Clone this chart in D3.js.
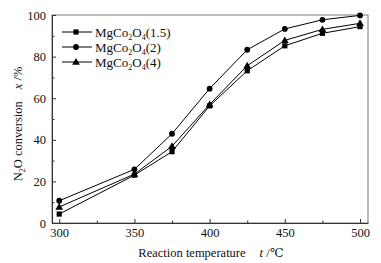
<!DOCTYPE html>
<html>
<head>
<meta charset="utf-8">
<script src="https://cdn.jsdelivr.net/npm/d3@7"></script>
<style>
  body { margin: 0; background: #fff; }
  text { font-family: "Liberation Serif", "DejaVu Serif", serif; fill: #111; }
</style>
</head>
<body>
<div id="main"></div>
<script>
const temps = [300, 350, 375, 400, 425, 450, 475, 500];
const conv15 = [4.3, 23.0, 34.3, 56.3, 73.2, 85.2, 91.2, 94.4];
const conv2 = [10.7, 25.8, 42.9, 64.6, 83.3, 93.3, 97.7, 99.8];
const conv4 = [7.7, 23.5, 36.9, 57.0, 75.6, 87.8, 93.1, 96.0];
const seriesNames = ["(1.5)", "(2)", "(4)"];
const seriesShapes = ["square", "circle", "triangle"];
const xTicks = [300, 350, 400, 450, 500];
const xMinor = [325, 375, 425, 475];
const yTicks = [0, 20, 40, 60, 80, 100];
const yMinor = [10, 30, 50, 70, 90];

const ctx = {
    width: 381,
    height: 263,
    margin: {top: 15, right: 13, bottom: 40, left: 52}
};
const w = ctx.width - ctx.margin.left - ctx.margin.right;
const h = ctx.height - ctx.margin.top - ctx.margin.bottom;

const svg = d3.select("#main").append("svg")
    .attr("width", ctx.width)
    .attr("height", ctx.height);
const g = svg.append("g")
    .attr("transform", `translate(${ctx.margin.left},${ctx.margin.top})`);

const x = d3.scaleLinear().domain([295.2, 505.3]).range([0, w]);
const y = d3.scaleLinear().domain([0, 100]).range([h, 0]);

// frame
g.append("rect")
    .attr("width", w).attr("height", h)
    .attr("fill", "none").attr("stroke", "#777").attr("stroke-width", 1);

// x axis (ticks inward)
const xAxis = g.append("g").attr("transform", `translate(0,${h})`)
    .call(d3.axisBottom(x).tickValues(xTicks).tickSizeInner(-4).tickSizeOuter(0).tickPadding(5));
xAxis.selectAll(".tick text").attr("font-size", 12.5).attr("font-family", "Liberation Serif");
g.append("g").attr("transform", `translate(0,${h})`)
    .call(d3.axisBottom(x).tickValues(xMinor).tickSizeInner(-2.5).tickSizeOuter(0).tickFormat(""))
    .select(".domain").remove();

const yAxis = g.append("g")
    .call(d3.axisLeft(y).tickValues(yTicks).tickSizeInner(-4).tickSizeOuter(0).tickPadding(6));
yAxis.selectAll(".tick text").attr("font-size", 12.5).attr("font-family", "Liberation Serif");
g.append("g")
    .call(d3.axisLeft(y).tickValues(yMinor).tickSizeInner(-2.5).tickSizeOuter(0).tickFormat(""))
    .select(".domain").remove();
g.selectAll(".domain").attr("stroke", "#333");
g.selectAll(".tick line").attr("stroke", "#333");

// series
const allSeries = [conv15, conv2, conv4];
const line = d3.line().x((d, i) => x(temps[i])).y(d => y(d));

function drawMarker(sel, shape, cx, cy) {
    if (shape === "square") {
        sel.append("rect").attr("x", cx - 2.6).attr("y", cy - 2.6)
            .attr("width", 5.2).attr("height", 5.2).attr("fill", "#000");
    } else if (shape === "circle") {
        sel.append("circle").attr("cx", cx).attr("cy", cy).attr("r", 2.9).attr("fill", "#000");
    } else {
        sel.append("path")
            .attr("d", d3.symbol().type(d3.symbolTriangle).size(26)())
            .attr("transform", `translate(${cx},${cy + 0.5})`).attr("fill", "#000");
    }
}

allSeries.forEach((vals, k) => {
    g.append("path").datum(vals)
        .attr("d", line)
        .attr("fill", "none").attr("stroke", "#000").attr("stroke-width", 1);
    const mg = g.append("g");
    vals.forEach((v, i) => drawMarker(mg, seriesShapes[k], x(temps[i]), y(v)));
});

// legend
const legend = svg.append("g");
seriesNames.forEach((name, k) => {
    const ly = 32 + k * 15;
    legend.append("line").attr("x1", 62).attr("x2", 92).attr("y1", ly).attr("y2", ly)
        .attr("stroke", "#000").attr("stroke-width", 1);
    drawMarker(legend, seriesShapes[k], 76, ly);
    const t = legend.append("text").attr("x", 95).attr("y", ly + 4.5).attr("font-size", 13);
    t.append("tspan").text("MgCo");
    t.append("tspan").attr("font-size", 8).attr("dy", 3).text("2");
    t.append("tspan").attr("dy", -3).text("O");
    t.append("tspan").attr("font-size", 8).attr("dy", 3).text("4");
    t.append("tspan").attr("dy", -3).text(name);
});

// axis titles
const xt = svg.append("text")
    .attr("x", 211).attr("y", 257)
    .attr("text-anchor", "middle").attr("font-size", 12.5);
xt.append("tspan").text("Reaction temperature");
xt.append("tspan").attr("dx", 14).attr("font-style", "italic").text("t");
xt.append("tspan").text(" /℃");

const yt = svg.append("text")
    .attr("transform", "translate(22,124) rotate(-90)")
    .attr("text-anchor", "middle").attr("font-size", 12.5);
yt.append("tspan").text("N");
yt.append("tspan").attr("font-size", 8).attr("dy", 3).text("2");
yt.append("tspan").attr("dy", -3).text("O conversion");
yt.append("tspan").attr("dx", 12).attr("font-style", "italic").text("x");
yt.append("tspan").text(" /%");
</script>
</body>
</html>
